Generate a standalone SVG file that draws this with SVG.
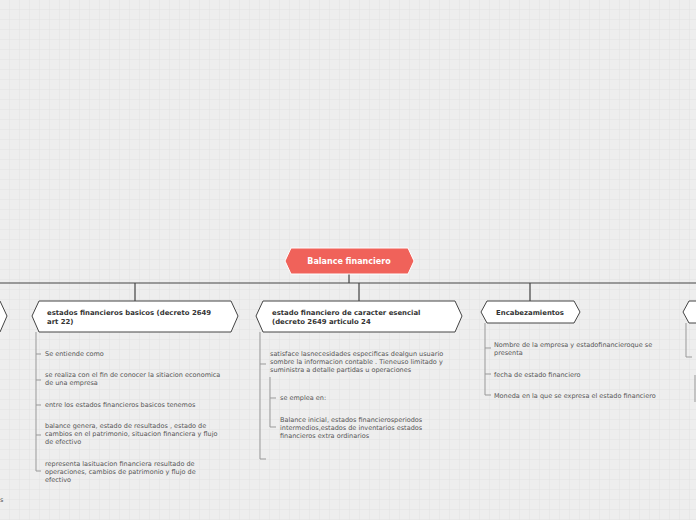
<svg xmlns="http://www.w3.org/2000/svg" width="696" height="520" viewBox="0 0 696 520">
<style>
.n{fill:#fff;stroke:#444;stroke-width:1}
.t{font-family:"DejaVu Sans",sans-serif;font-size:6.5px;fill:#555}
.b{font-family:"DejaVu Sans",sans-serif;font-size:6.9px;font-weight:bold;fill:#333}
.c{fill:none;stroke:#444;stroke-width:1.2}
.s{fill:none;stroke:#999;stroke-width:1}
</style>
<defs><pattern id="g" width="10" height="10" patternUnits="userSpaceOnUse"><path d="M10 0V10H0" fill="none" stroke="#e2e2e2" stroke-width="1"/></pattern></defs>
<rect width="696" height="520" fill="#eeeeee"/>
<rect width="696" height="520" fill="url(#g)"/>
<g id="connectors">
<path class="c" d="M349 274V283M0 283H696M135 283V301M359 283V301M530 283V301"/>
<path class="s" d="M36 332V471H41M36 354H41M36 380H41M36 405H41M36 435H41"/>
<path class="s" d="M260 332V459H266M260 364H266M270 377V427H276M270 398H276"/>
<path class="s" d="M485 323V395H491M485 348H491M485 374H491"/>
<path class="s" d="M686 323V357H692M695 375V402"/>
</g>
<g id="root"><polygon points="291,248 408,248 414,261 408,274 291,274 285,261" fill="#f0625a" stroke="#fff" stroke-width="1"/><text x="349" y="264" text-anchor="middle" font-family="DejaVu Sans,sans-serif" font-size="8px" font-weight="bold" fill="#fff">Balance financiero</text></g>
<g id="left"><polygon class="n" points="-10,301 0,301 7,316 0,332 -10,332"/><text class="t" x="0" y="502">s</text></g>
<g id="n1"><polygon class="n" points="39,301 231,301 238,316 231,332 39,332 32,316"/>
<text class="b" x="47" y="315">estados financieros  basicos (decreto 2649</text><text class="b" x="47" y="324">art 22)</text>
<text class="t" x="45" y="356">Se entiende como</text>
<text class="t" x="45" y="377">se realiza con el fin de conocer la sitiacion economica</text><text class="t" x="45" y="385">de una empresa</text>
<text class="t" x="45" y="407">entre los estados financieros basicos tenemos</text>
<text class="t" x="45" y="428">balance genera, estado de resultados , estado de</text><text class="t" x="45" y="436">cambios en el patrimonio, situacion financiera y flujo</text><text class="t" x="45" y="444">de efectivo</text>
<text class="t" x="45" y="466">representa lasituacion financiera resultado de</text><text class="t" x="45" y="474">operaciones, cambios de patrimonio y flujo de</text><text class="t" x="45" y="482">efectivo</text></g>
<g id="n2"><polygon class="n" points="263,301 455,301 462,316 455,332 263,332 256,316"/>
<text class="b" x="272" y="315">estado financiero de caracter esencial</text><text class="b" x="272" y="324">(decreto 2649 articulo 24</text>
<text class="t" x="270" y="356">satisface lasnecesidades  especificas dealgun usuario</text><text class="t" x="270" y="364">sombre la informacion contable . Tieneuso limitado y</text><text class="t" x="270" y="372">suministra a detalle partidas u operaciones</text>
<text class="t" x="280" y="400">se emplea en:</text>
<text class="t" x="280" y="422">Balance inicial, estados financierosperiodos</text><text class="t" x="280" y="430">intermedios,estados de inventarios  estados</text><text class="t" x="280" y="438">financieros extra ordinarios</text></g>
<g id="n3"><polygon class="n" points="487,301 574,301 580,312 574,323 487,323 481,312"/>
<text class="b" x="530" y="315" text-anchor="middle">Encabezamientos</text>
<text class="t" x="494" y="347">Nombre de la empresa y estadofinancieroque se</text><text class="t" x="494" y="355">presenta</text>
<text class="t" x="494" y="377">fecha de estado financiero</text>
<text class="t" x="494" y="398">Moneda en la que se expresa el estado financiero</text></g>
<g id="n4"><polygon class="n" points="689,301 700,301 700,323 689,323 683,312"/></g>
</svg>
